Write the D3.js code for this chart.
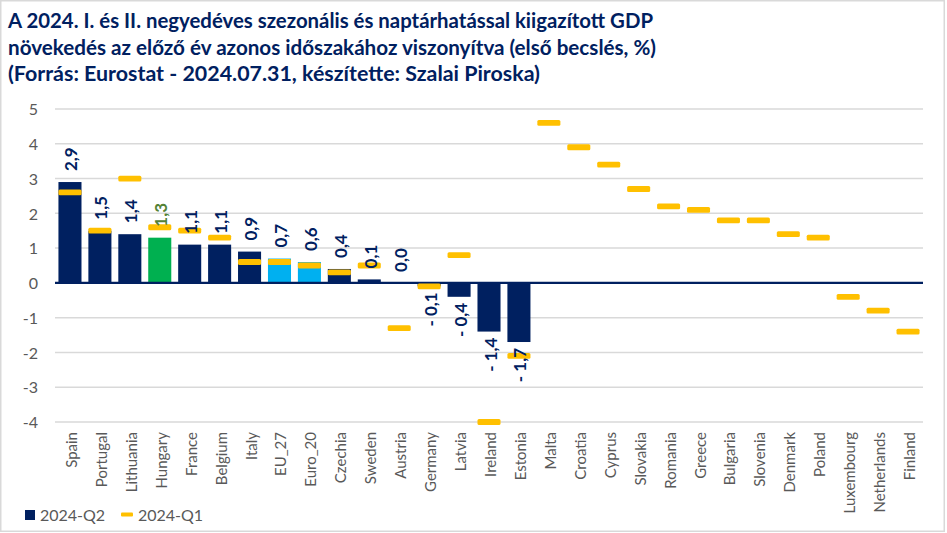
<!DOCTYPE html>
<html><head><meta charset="utf-8">
<script src="https://cdn.jsdelivr.net/npm/d3@7/dist/d3.min.js"></script>
<style>html,body{margin:0;padding:0;background:#fff;}svg{display:block;}</style>
</head><body>
<svg id="chart" width="947" height="533"></svg>
<script>
const titleLines = [
  "A 2024. I. és II. negyedéves szezonális és naptárhatással kiigazított GDP",
  "növekedés az előző év azonos időszakához viszonyítva (első becslés, %)",
  "(Forrás: Eurostat - 2024.07.31, készítette: Szalai Piroska)"
];
const categories = ["Spain","Portugal","Lithuania","Hungary","France","Belgium","Italy","EU_27","Euro_20","Czechia","Sweden","Austria","Germany","Latvia","Ireland","Estonia","Malta","Croatia","Cyprus","Slovakia","Romania","Greece","Bulgaria","Slovenia","Denmark","Poland","Luxembourg","Netherlands","Finland"];
const q2Values = [2.9,1.5,1.4,1.3,1.1,1.1,0.9,0.7,0.6,0.4,0.1,0.0,-0.1,-0.4,-1.4,-1.7,null,null,null,null,null,null,null,null,null,null,null,null,null];
const q1Values = [2.6,1.5,3.0,1.6,1.5,1.3,0.6,0.6,0.5,0.3,0.5,-1.3,-0.1,0.8,-4.0,-2.1,4.6,3.9,3.4,2.7,2.2,2.1,1.8,1.8,1.4,1.3,-0.4,-0.8,-1.4];
const yTicks = [-4,-3,-2,-1,0,1,2,3,4,5];
const seriesNames = ["2024-Q2","2024-Q1"];

const NAVY = "#002060", GREEN = "#00B050", LBLUE = "#00B0F0", GOLD = "#FFC000", GRID = "#D9D9D9", GRAY = "#595959";
const FONT = "Lato, 'Open Sans', sans-serif";

const svg = d3.select("#chart");
svg.append("rect").attr("x",0.75).attr("y",0.75).attr("width",943.5).attr("height",530.5)
  .attr("fill","#fff").attr("stroke",GRID).attr("stroke-width",1.5);

// Title
const titleW = [645, 648, 532];
const titleY = [28, 55, 81];
titleLines.forEach((t,i)=>{
  svg.append("text").attr("x",8).attr("y",titleY[i]).text(t)
    .attr("font-family",FONT).attr("font-weight","bold").attr("font-size",20.5)
    .attr("fill",NAVY).attr("textLength",titleW[i]).attr("lengthAdjust","spacingAndGlyphs");
});

const x = d3.scaleBand().domain(categories).range([55,923]).paddingInner(0.23).paddingOuter(0.115);
const y = d3.scaleLinear().domain([-4,5]).range([422,109]);

// gridlines
svg.append("g").selectAll("line").data(yTicks.filter(d=>d!==0)).join("line")
  .attr("x1",55).attr("x2",923).attr("y1",d=>y(d)).attr("y2",d=>y(d))
  .attr("stroke",GRID).attr("stroke-width",1.5);

// y axis labels
const yAxis = d3.axisLeft(y).tickValues(yTicks).tickSize(0).tickPadding(0).tickFormat(d=>String(d));
const ya = svg.append("g").attr("transform","translate(38,0)").call(yAxis);
ya.select(".domain").remove();
ya.selectAll("text").attr("font-family",FONT).attr("font-size",16).attr("fill",GRAY).attr("dy","0.36em");

const barColor = c => c==="Hungary" ? GREEN : (c==="EU_27"||c==="Euro_20") ? LBLUE : NAVY;
const data = categories.map((c,i)=>({c, q2:q2Values[i], q1:q1Values[i]}));

// bars
svg.append("g").selectAll("rect").data(data.filter(d=>d.q2!==null && d.q2!==0)).join("rect")
  .attr("x",d=>x(d.c)).attr("width",x.bandwidth())
  .attr("y",d=>y(Math.max(0,d.q2))).attr("height",d=>Math.abs(y(d.q2)-y(0)))
  .attr("fill",d=>barColor(d.c));

// zero line
svg.append("line").attr("x1",55).attr("x2",923).attr("y1",y(0)).attr("y2",y(0))
  .attr("stroke",NAVY).attr("stroke-width",2.2);

// Q1 markers
svg.append("g").selectAll("rect").data(data).join("rect")
  .attr("x",d=>x(d.c)).attr("width",x.bandwidth())
  .attr("y",d=>y(d.q1)-2.9).attr("height",5.8).attr("rx",1.5)
  .attr("fill",GOLD);

// data labels
const fmt = v => (v<0 ? "- " : "") + Math.abs(v).toFixed(1).replace(".",",");
svg.append("g").selectAll("text").data(data.filter(d=>d.q2!==null)).join("text")
  .attr("transform",d=>{
    const cx = x(d.c)+x.bandwidth()/2+1;
    const yy = d.q2>=0 ? y(d.q2)-11 : y(d.q2)+6;
    return `translate(${cx},${yy}) rotate(-90)`;
  })
  .attr("text-anchor",d=>d.q2>=0?"start":"end")
  .attr("dominant-baseline","central")
  .attr("font-family",FONT).attr("font-weight","bold").attr("font-size",17)
  .attr("fill",d=>d.c==="Hungary" ? "#548235" : NAVY)
  .text(d=>fmt(d.q2));

// category labels
svg.append("g").selectAll("text").data(categories).join("text")
  .attr("transform",c=>`translate(${x(c)+x.bandwidth()/2+1},432) rotate(-90)`)
  .attr("text-anchor","end").attr("dominant-baseline","central")
  .attr("font-family",FONT).attr("font-size",15).attr("fill",GRAY)
  .text(c=>c);

// legend
const lg = svg.append("g");
lg.append("rect").attr("x",25).attr("y",510).attr("width",10).attr("height",10).attr("fill",NAVY);
lg.append("text").attr("x",40).attr("y",521).text(seriesNames[0])
  .attr("font-family",FONT).attr("font-size",16).attr("fill",GRAY);
lg.append("rect").attr("x",121).attr("y",512.5).attr("width",12).attr("height",4).attr("rx",1).attr("fill",GOLD);
lg.append("text").attr("x",138).attr("y",521).text(seriesNames[1])
  .attr("font-family",FONT).attr("font-size",16).attr("fill",GRAY);
</script>
</body></html>
